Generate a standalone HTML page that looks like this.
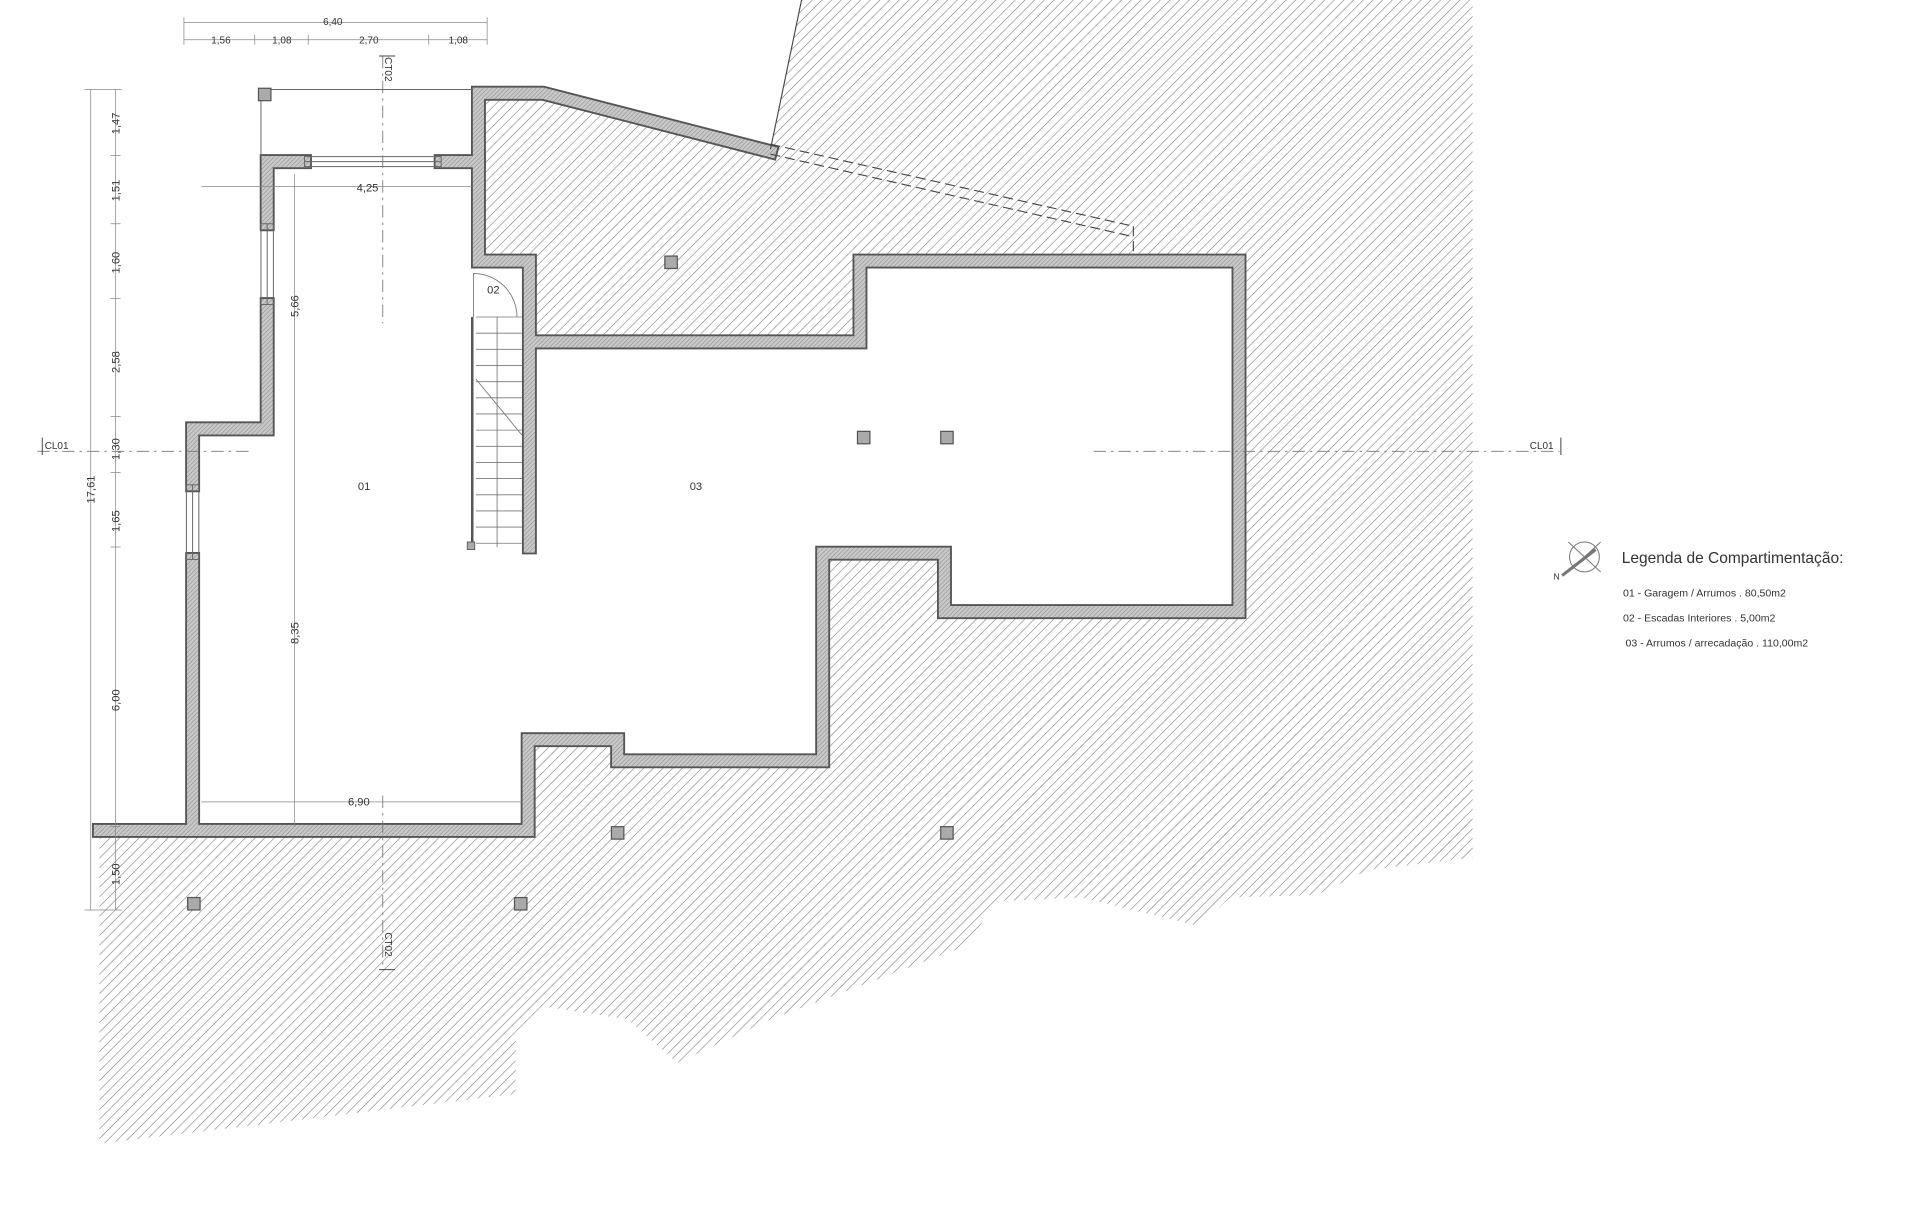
<!DOCTYPE html>
<html><head><meta charset="utf-8"><style>
html,body{margin:0;padding:0;background:#fff;}
svg{display:block;}
text{font-family:"Liberation Sans",sans-serif;fill:#333;}
</style></head><body>
<svg width="1920" height="1222" viewBox="0 0 1545 983" preserveAspectRatio="none" xmlns="http://www.w3.org/2000/svg">
<defs>
<pattern id="h" width="5.5" height="5.5" patternUnits="userSpaceOnUse" patternTransform="rotate(45)">
<line x1="0" y1="0" x2="0" y2="5.5" stroke="#777" stroke-width="0.9"/>
</pattern>
<pattern id="w" width="2.5" height="2.5" patternUnits="userSpaceOnUse" patternTransform="rotate(45)">
<rect width="2.5" height="2.5" fill="#c8c8c8"/><line x1="0" y1="0" x2="0" y2="2.5" stroke="#888" stroke-width="0.8"/>
</pattern>
</defs>
<rect width="1545" height="983" fill="#fff"/>
<polygon fill="url(#h)" points="645,0 1185,0 1185,690 1100,700 1060,720 990,722 965,745 870,722 800,725 780,760 700,790 620,820 545,855 505,820 440,810 415,830 415,880 80,920 80,673 380,673 380,72 440,72 620,120"/>
<polygon fill="#fff" points="160,665 425,665 425,595 497,595 497,612 662,612 662,445 760,445 760,492 997,492 997,210 692,210 692,280 430,280 430,215 385,215 385,130 215,130 215,345 155,345 155,665"/>
<g fill="none" stroke-linejoin="miter" stroke-linecap="square">
<g stroke="#555" stroke-width="12">
<polyline points="80,668 425,668 425,595 497,595 497,612 662,612 662,445 760,445 760,492 997,492 997,210 692,210 692,275 430,275"/>
<polyline points="426,440 426,210 385,210 385,75 437,75 620,122"/>
<polyline points="155,665 155,450"/><polyline points="155,390 155,345 215,345 215,245"/>
<polyline points="215,180 215,130 245,130"/><polyline points="355,130 385,130"/>
</g>
<g stroke="url(#w)" stroke-width="9">
<polyline points="80,668 425,668 425,595 497,595 497,612 662,612 662,445 760,445 760,492 997,492 997,210 692,210 692,275 430,275"/>
<polyline points="426,440 426,210 385,210 385,75 437,75 620,122"/>
<polyline points="155,665 155,450"/><polyline points="155,390 155,345 215,345 215,245"/>
<polyline points="215,180 215,130 245,130"/><polyline points="355,130 385,130"/>
</g>
</g>
<g stroke="#666" stroke-width="0.8" fill="none">
<rect x="210" y="180" width="10" height="65"/><line x1="215" y1="180" x2="215" y2="245"/>
<rect x="150" y="390" width="10" height="60"/><line x1="155" y1="390" x2="155" y2="450"/>
<rect x="245" y="126" width="110" height="8"/><line x1="245" y1="130" x2="355" y2="130"/>
<line x1="210" y1="72" x2="380" y2="72"/><line x1="210" y1="72" x2="210" y2="126"/>
</g>
<g stroke="#444" stroke-width="0.9" fill="none" stroke-dasharray="8,4">
<line x1="620" y1="116" x2="912" y2="182"/><line x1="620" y1="124" x2="910" y2="190"/>
<line x1="912" y1="182" x2="912" y2="205"/>
</g>
<line x1="645" y1="0" x2="620" y2="120" stroke="#444" stroke-width="0.9"/>
<g stroke="#777" stroke-width="0.7" fill="none">
<line x1="380" y1="255" x2="380" y2="440" stroke="#555" stroke-width="2"/>
<line x1="400" y1="255" x2="400" y2="440"/>
<path d="M383,255 L420,255 M383,268 L420,268 M383,281 L420,281 M383,294 L420,294 M383,307 L420,307 M383,320 L420,320 M383,333 L420,333 M383,346 L420,346 M383,359 L420,359 M383,372 L420,372 M383,385 L420,385 M383,398 L420,398 M383,411 L420,411 M383,424 L420,424 M383,437 L420,437"/>
<line x1="383" y1="305" x2="420" y2="350"/>
<path d="M381,255 L381,220 A35,35 0 0 1 416,255" />
</g>
<rect x="376" y="436" width="6" height="6" fill="#aaa" stroke="#555" stroke-width="0.7"/>
<g fill="#aaa" stroke="#555" stroke-width="1">
<rect x="208" y="71" width="10" height="10"/><rect x="535" y="206" width="10" height="10"/>
<rect x="690" y="347" width="10" height="10"/><rect x="757" y="347" width="10" height="10"/>
<rect x="492" y="665" width="10" height="10"/><rect x="757" y="665" width="10" height="10"/>
<rect x="151" y="722" width="10" height="10"/><rect x="414" y="722" width="10" height="10"/>
</g>
<g stroke="#777" stroke-width="0.7" stroke-dasharray="10,4,2,4" fill="none">
<line x1="30" y1="363" x2="200" y2="363"/><line x1="880" y1="363" x2="1255" y2="363"/>
<line x1="308" y1="45" x2="308" y2="260"/><line x1="308" y1="640" x2="308" y2="780"/>
</g>
<g stroke="#444" stroke-width="0.8" fill="none">
<path d="M34,352 L34,366"/><path d="M1256,352 L1256,366"/><path d="M305,45 L318,45"/><path d="M305,780 L318,780"/>
</g>
<text x="36" y="361" font-size="8">CL01</text>
<text x="1231" y="361" font-size="8">CL01</text>
<text transform="translate(310,46) rotate(90)" font-size="8">CT02</text>
<text transform="translate(310,750) rotate(90)" font-size="8">CT02</text>
<g stroke="#888" stroke-width="0.6" fill="none">
<line x1="148" y1="18" x2="392" y2="18"/><line x1="148" y1="32" x2="392" y2="32"/>
<path d="M148,14 V36 M392,14 V36 M205,28 V36 M248,28 V36 M345,28 V36"/>
<line x1="73" y1="72" x2="73" y2="732"/><line x1="93" y1="72" x2="93" y2="732"/>
<path d="M68,72 H98 M68,732 H98 M89,125 H97 M89,180 H97 M89,240 H97 M89,335 H97 M89,380 H97 M89,440 H97 M89,665 H97"/>
<line x1="162" y1="150" x2="380" y2="150"/><line x1="162" y1="645" x2="420" y2="645"/>
<line x1="237" y1="140" x2="237" y2="665"/>
</g>
<g font-size="8">
<text x="260" y="20">6,40</text><text x="170" y="35">1,56</text><text x="219" y="35">1,08</text><text x="289" y="35">2,70</text><text x="361" y="35">1,08</text>
<text x="287" y="154" font-size="9">4,25</text><text x="280" y="648" font-size="9">6,90</text>
</g>
<g font-size="9">
<text transform="translate(96,108) rotate(-90)">1,47</text>
<text transform="translate(96,162) rotate(-90)">1,51</text>
<text transform="translate(96,220) rotate(-90)">1,60</text>
<text transform="translate(96,300) rotate(-90)">2,58</text>
<text transform="translate(96,370) rotate(-90)">1,30</text>
<text transform="translate(96,428) rotate(-90)">1,65</text>
<text transform="translate(96,572) rotate(-90)">6,00</text>
<text transform="translate(96,712) rotate(-90)">1,50</text>
<text transform="translate(76,405) rotate(-90)">17,61</text>
<text transform="translate(240,255) rotate(-90)">5,66</text>
<text transform="translate(240,518) rotate(-90)">8,35</text>
</g>
<g font-size="9"><text x="288" y="394">01</text><text x="555" y="394">03</text><text x="392" y="236">02</text></g>
<g stroke="#777" stroke-width="0.8" fill="none">
<circle cx="1275" cy="448" r="12"/><line x1="1262" y1="436" x2="1288" y2="460"/><line x1="1288" y1="436" x2="1262" y2="460"/>
<line x1="1257" y1="463" x2="1284" y2="442" stroke-width="2.5"/>
</g>
<text x="1250" y="466" font-size="7">N</text>
<text x="1305" y="453" font-size="12.5">Legenda de Compartimentação:</text>
<g font-size="8.5">
<text x="1306" y="480">01 - Garagem / Arrumos . 80,50m2</text>
<text x="1306" y="500">02 - Escadas Interiores . 5,00m2</text>
<text x="1308" y="520">03 - Arrumos / arrecadação . 110,00m2</text>
</g>
</svg>
</body></html>
